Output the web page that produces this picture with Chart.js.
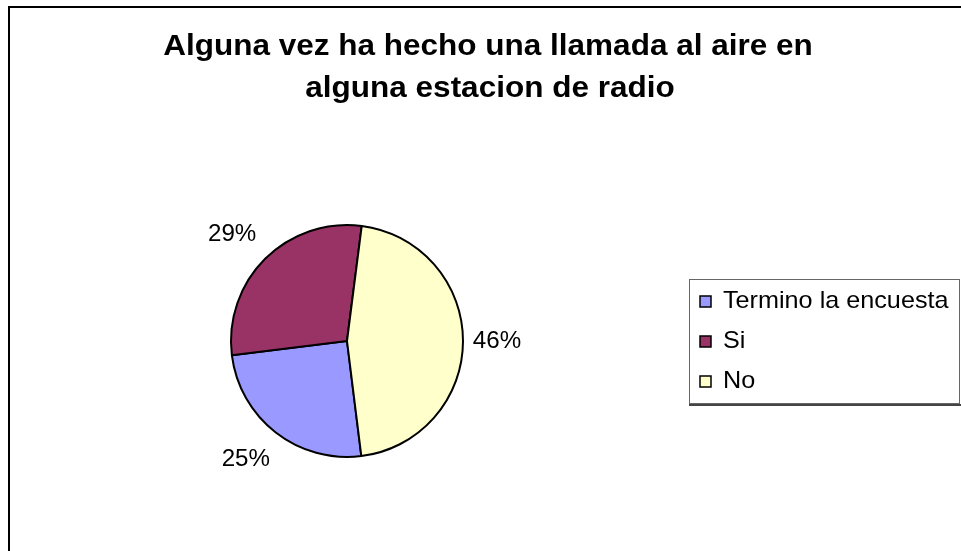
<!DOCTYPE html>
<html>
<head>
<meta charset="utf-8">
<script src="https://cdn.jsdelivr.net/npm/chart.js@4"></script>
<style>html,body{margin:0;padding:0;background:#fff}canvas{display:block}</style>
</head>
<body>
<canvas id="chart" width="961" height="551"></canvas>
<script>
const titleLines = ['Alguna vez ha hecho una llamada al aire en', 'alguna estacion de radio'];
const categories = ['Termino la encuesta', 'Si', 'No'];
const percents = [25, 29, 46];
const colors = ['#9999FF', '#993366', '#FFFFCC'];

// the reference text is a touch wider than plain Arial
const STRETCH = 1.05;
const FONT = '"Liberation Sans", Arial, sans-serif';

function stretchText(c, txt, x, y, align){
  c.save();
  c.translate(x, y);
  c.scale(STRETCH, 1);
  c.textAlign = align;
  c.fillText(txt, 0, 0);
  c.restore();
}

const decor = {
  id: 'decor',
  beforeDraw(chart){
    const c = chart.ctx;
    c.save();
    c.fillStyle = '#fff';
    c.fillRect(0, 0, chart.width, chart.height);
    c.strokeStyle = '#000'; c.lineWidth = 2;
    c.beginPath(); c.moveTo(9, chart.height); c.lineTo(9, 7); c.lineTo(chart.width, 7); c.stroke();
    c.restore();
  },
  afterDraw(chart){
    const c = chart.ctx;
    c.save();
    c.fillStyle = '#000';
    c.textBaseline = 'alphabetic';
    c.font = 'bold 30px ' + FONT;
    stretchText(c, titleLines[0], 488, 55, 'center');
    stretchText(c, titleLines[1], 490, 97, 'center');

    // percentage labels outside the slices
    const meta = chart.getDatasetMeta(0);
    c.font = '23px ' + FONT;
    c.textBaseline = 'middle';
    meta.data.forEach((arc, i) => {
      const p = arc.getProps(['x','y','startAngle','endAngle','outerRadius'], true);
      const mid = (p.startAngle + p.endAngle) / 2;
      const d = p.outerRadius + 34;
      let lx = p.x + Math.cos(mid) * d;
      if (Math.cos(mid) < 0) lx -= 9;
      stretchText(c, percents[i] + '%', lx, p.y + Math.sin(mid) * d, 'center');
    });

    // legend box
    c.strokeStyle = '#666'; c.lineWidth = 1;
    c.strokeRect(689.5, 279.5, 270, 124);
    c.strokeStyle = '#444'; c.lineWidth = 2;
    c.beginPath(); c.moveTo(689, 405); c.lineTo(961, 405); c.stroke();
    c.textBaseline = 'alphabetic';
    c.font = '24px ' + FONT;
    categories.forEach((lab, i) => {
      const cy = 301 + i * 40;
      c.fillStyle = colors[i];
      c.fillRect(700, cy - 5, 11, 11);
      c.strokeStyle = '#000'; c.lineWidth = 1.5;
      c.strokeRect(700, cy - 5, 11, 11);
      c.fillStyle = '#000';
      stretchText(c, lab, 723, cy + 7, 'left');
    });
    c.restore();
  }
};

new Chart(document.getElementById('chart'), {
  type: 'pie',
  data: {
    labels: categories,
    datasets: [{
      data: percents,
      backgroundColor: colors,
      borderColor: '#000',
      borderWidth: 2
    }]
  },
  options: {
    responsive: false,
    animation: false,
    rotation: 172.9,
    layout: { padding: { left: 230, right: 497, top: 224, bottom: 93 } },
    plugins: { legend: { display: false }, title: { display: false }, tooltip: { enabled: false } }
  },
  plugins: [decor]
});
</script>
</body>
</html>
